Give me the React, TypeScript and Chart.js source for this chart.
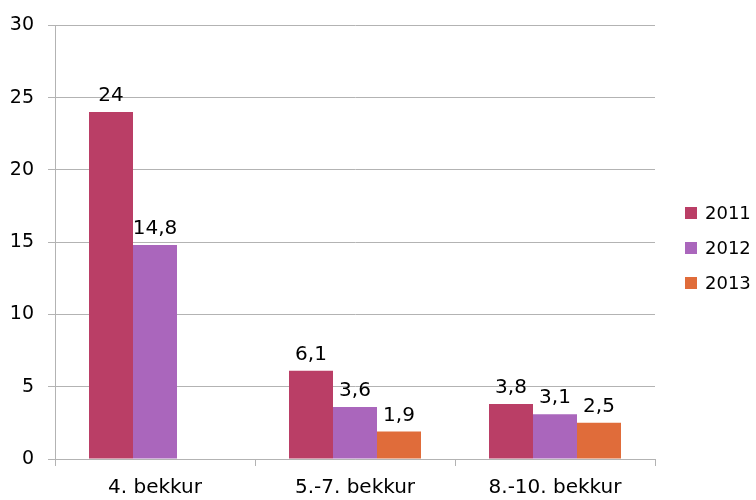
import React, { useEffect, useRef } from "react";
import { Chart, registerables } from "chart.js";

Chart.register(...registerables);

const categories = ["4. bekkur", "5.-7. bekkur", "8.-10. bekkur"];
const seriesNames = ["2011", "2012", "2013"];
const values2011 = [24, 6.1, 3.8];
const values2012 = [14.8, 3.6, 3.1];
const values2013: (number | null)[] = [null, 1.9, 2.5];
const seriesColors = ["#BA3E66", "#AA66BC", "#E06C3A"];
const yTicks = [0, 5, 10, 15, 20, 25, 30];

const FONT = "'DejaVu Sans', sans-serif";

const fmt = (v: number) => String(v).replace(".", ",");

const dataLabelPlugin = {
  id: "dataLabels",
  afterDatasetsDraw(chart: any) {
    const ctx = chart.ctx;
    ctx.save();
    ctx.font = `20px ${FONT}`;
    ctx.fillStyle = "#000";
    ctx.textAlign = "center";
    ctx.textBaseline = "alphabetic";
    chart.data.datasets.forEach((ds: any, i: number) => {
      const meta = chart.getDatasetMeta(i);
      meta.data.forEach((el: any, j: number) => {
        const v = ds.data[j];
        if (v === null || v === undefined) return;
        ctx.fillText(fmt(v), el.x, el.y - 11);
      });
    });
    ctx.restore();
  },
};

const legendPlugin = {
  id: "customLegend",
  afterDraw(chart: any) {
    const ctx = chart.ctx;
    ctx.save();
    ctx.font = `18px ${FONT}`;
    ctx.textAlign = "left";
    ctx.textBaseline = "middle";
    chart.data.datasets.forEach((ds: any, i: number) => {
      const cy = 213 + i * 35;
      ctx.fillStyle = ds.backgroundColor;
      ctx.fillRect(685, cy - 6, 12, 12);
      ctx.fillStyle = "#000";
      ctx.fillText(ds.label, 705, cy + 1);
    });
    ctx.restore();
  },
};

export default function App() {
  const ref = useRef<HTMLCanvasElement | null>(null);
  useEffect(() => {
    if (!ref.current) return;
    const seriesData = [values2011, values2012, values2013];
    const chart = new Chart(ref.current, {
      type: "bar",
      data: {
        labels: categories,
        datasets: seriesNames.map((name, i) => ({
          label: name,
          data: seriesData[i],
          backgroundColor: seriesColors[i],
          borderWidth: 0,
          categoryPercentage: 0.66,
          barPercentage: 1,
        })),
      },
      options: {
        responsive: false,
        animation: false,
        devicePixelRatio: 1,
        layout: { padding: { top: 22, right: 101, left: 0, bottom: 0 } },
        plugins: {
          legend: { display: false },
          tooltip: { enabled: false },
        },
        scales: {
          x: {
            grid: {
              display: true,
              drawOnChartArea: false,
              drawTicks: true,
              tickLength: 7,
              color: "#b3b3b3",
            },
            border: { display: true, color: "#b3b3b3" },
            ticks: {
              color: "#000",
              font: { family: FONT, size: 20 },
              padding: 10,
            },
            afterFit: (s: any) => {
              s.height = 41;
            },
          },
          y: {
            min: 0,
            max: 30,
            afterBuildTicks: (s: any) => {
              s.ticks = yTicks.map((v) => ({ value: v }));
            },
            grid: {
              color: "#b3b3b3",
              tickLength: 7,
            },
            border: { display: true, color: "#b3b3b3" },
            ticks: {
              color: "#000",
              font: { family: FONT, size: 19 },
              padding: 14,
            },
            afterFit: (s: any) => {
              s.width = 55;
            },
          },
        },
      },
      plugins: [dataLabelPlugin, legendPlugin],
    });
    return () => chart.destroy();
  }, []);
  return (
    <div style={{ position: "fixed", left: 0, top: 0, width: 756, height: 500, background: "#fff" }}>
      <canvas ref={ref} width={756} height={500} style={{ width: 756, height: 500 }} />
    </div>
  );
}
